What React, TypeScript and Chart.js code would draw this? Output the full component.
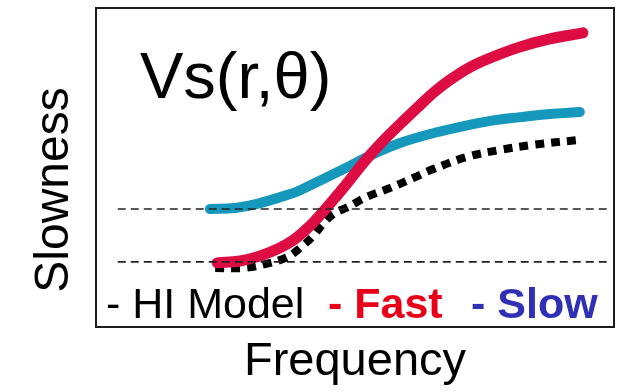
import React, { useEffect, useRef } from "react";
import { Chart, registerables } from "chart.js";

Chart.register(...registerables);

// Values (arbitrary units, 0-100 on both axes)
const fastFreq = [23.4, 27.8, 31.7, 35.5, 38.4, 41.3, 43.6, 46.1, 49.0, 52.1, 55.4, 58.7, 62.0, 65.1, 68.3, 71.6, 74.7, 81.3, 87.6, 94.0];
const fastSlowness = [20.1, 20.7, 22.3, 24.8, 27.6, 31.7, 35.7, 40.4, 46.1, 52.4, 58.3, 63.6, 68.7, 73.4, 77.4, 80.9, 83.4, 87.5, 90.3, 92.2];

const slowFreq = [22.0, 26.8, 31.1, 37.5, 39.4, 49.0, 53.9, 58.7, 64.5, 70.3, 76.1, 81.9, 87.6, 93.4];
const slowSlowness = [37.0, 37.3, 38.6, 41.7, 42.9, 50.5, 54.5, 57.7, 60.5, 62.7, 64.6, 65.8, 66.8, 67.4];

const hiFreq = [23.0, 28.4, 32.6, 36.9, 39.4, 41.9, 43.8, 45.8, 48.6, 52.3, 56.8, 61.2, 65.1, 71.6, 78.0, 84.4, 92.9];
const hiSlowness = [18.5, 18.5, 19.7, 21.9, 24.8, 28.5, 32.3, 35.4, 37.6, 40.8, 43.6, 46.7, 49.5, 53.3, 55.5, 57.1, 58.6];

const refFreq = [4.2, 98.6];
const slowRefLevel = 37.0;
const fastRefLevel = 20.4;

const titleText = "Vs(r,θ)";
const xTitle = "Frequency";
const yTitle = "Slowness";
const legendItems = ["- HI Model", "- Fast", "- Slow"];

const pts = (xs: number[], ys: number[]) => xs.map((x, i) => ({ x, y: ys[i] }));

const FONT = '"Liberation Sans", Arial, Helvetica, sans-serif';

const overlayPlugin = {
  id: "overlayText",
  afterDraw(chart: any) {
    const { ctx, chartArea: a } = chart;
    ctx.save();
    // frame
    ctx.strokeStyle = "#1c1c1c";
    ctx.lineWidth = 2;
    ctx.strokeRect(a.left, a.top, a.right - a.left, a.bottom - a.top);

    ctx.textBaseline = "alphabetic";
    // inner title
    ctx.fillStyle = "#000";
    ctx.textAlign = "left";
    ctx.font = `65px ${FONT}`;
    ctx.fillText(titleText, a.left + 44, a.top + 90);

    // x title
    ctx.textAlign = "center";
    ctx.font = `47px ${FONT}`;
    ctx.fillText(xTitle, (a.left + a.right) / 2, a.bottom + 48);

    // y title
    ctx.save();
    ctx.translate(a.left - 28, 190);
    ctx.rotate(-Math.PI / 2);
    ctx.font = `48px ${FONT}`;
    ctx.textAlign = "center";
    ctx.fillText(yTitle, 0, 0);
    ctx.restore();

    // legend text
    ctx.textAlign = "left";
    const base = a.bottom - 9;
    ctx.font = `43px ${FONT}`;
    ctx.fillStyle = "#000";
    ctx.fillText(legendItems[0], a.left + 10, base);
    ctx.font = `bold 43px ${FONT}`;
    ctx.fillStyle = "rgb(232,0,24)";
    ctx.fillText(legendItems[1], a.left + 232, base);
    ctx.fillStyle = "rgb(48,48,182)";
    ctx.fillText(legendItems[2], a.left + 375, base);
    ctx.restore();
  },
};

export default function App() {
  const ref = useRef<HTMLCanvasElement | null>(null);

  useEffect(() => {
    if (!ref.current) return;
    const chart = new Chart(ref.current, {
      type: "line",
      data: {
        datasets: [
          {
            label: "slow reference",
            data: pts(refFreq, [slowRefLevel, slowRefLevel]),
            borderColor: "#222",
            borderWidth: 1.6,
            borderDash: [8, 5],
            pointRadius: 0,
            tension: 0,
          },
          {
            label: "fast reference",
            data: pts(refFreq, [fastRefLevel, fastRefLevel]),
            borderColor: "#222",
            borderWidth: 1.6,
            borderDash: [8, 5],
            pointRadius: 0,
            tension: 0,
          },
          {
            label: "Fast",
            data: pts(fastFreq, fastSlowness),
            borderColor: "rgb(221,12,66)",
            borderWidth: 11,
            borderCapStyle: "round",
            borderJoinStyle: "round",
            pointRadius: 0,
            tension: 0.4,
          },
          {
            label: "Slow",
            data: pts(slowFreq, slowSlowness),
            borderColor: "rgb(22,152,188)",
            borderWidth: 10,
            borderCapStyle: "round",
            borderJoinStyle: "round",
            pointRadius: 0,
            tension: 0.4,
          },
          {
            label: "HI Model",
            data: pts(hiFreq, hiSlowness),
            borderColor: "#000",
            borderWidth: 8,
            borderDash: [9, 7],
            borderCapStyle: "butt",
            pointRadius: 0,
            tension: 0.4,
          },
        ],
      },
      options: {
        animation: false,
        responsive: false,
        maintainAspectRatio: false,
        layout: { padding: { left: 96, top: 8, right: 8, bottom: 65 } },
        scales: {
          x: { type: "linear", min: 0, max: 100, display: false },
          y: { type: "linear", min: 0, max: 100, display: false },
        },
        plugins: {
          legend: { display: false },
          tooltip: { enabled: false },
          title: { display: false },
        },
      },
      plugins: [overlayPlugin],
    } as any);
    return () => chart.destroy();
  }, []);

  return (
    <div style={{ position: "fixed", left: 0, top: 0, width: 622, height: 392, background: "#fff" }}>
      <canvas ref={ref} width={622} height={392} style={{ display: "block" }} />
    </div>
  );
}
